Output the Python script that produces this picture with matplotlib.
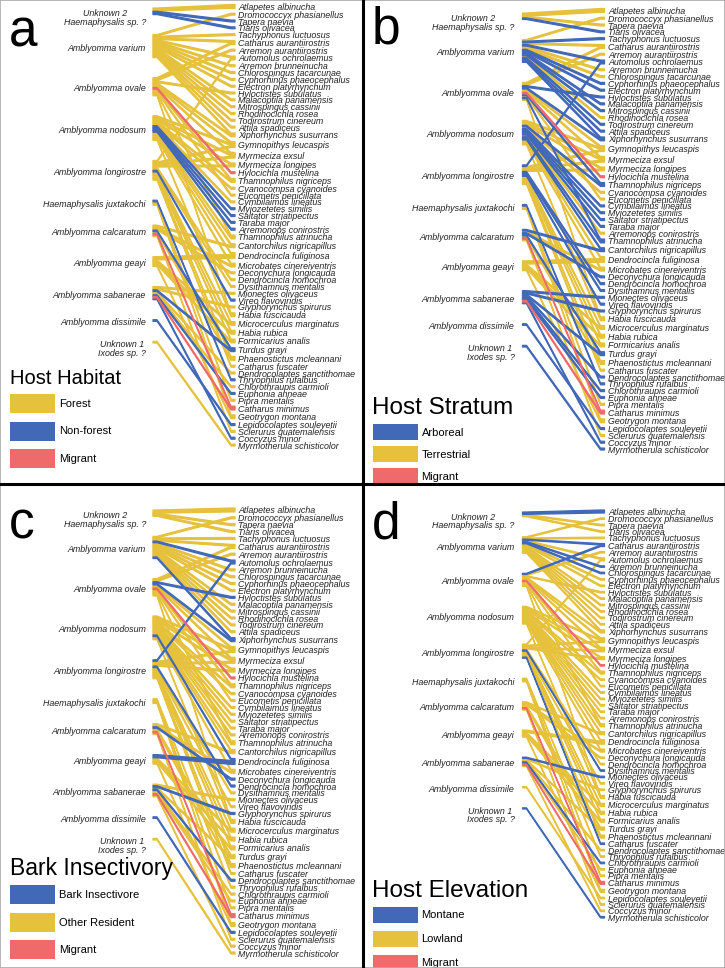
import numpy as np
import matplotlib.pyplot as plt
from matplotlib.patches import Polygon, Rectangle
from matplotlib.lines import Line2D

plt.rcParams['font.family'] = ['Liberation Sans', 'DejaVu Sans']

# ---------------- data ----------------
ticks = ["Unknown 2\nHaemaphysalis sp. ?", "Amblyomma varium", "Amblyomma ovale",
         "Amblyomma nodosum", "Amblyomma longirostre", "Haemaphysalis juxtakochi",
         "Amblyomma calcaratum", "Amblyomma geayi", "Amblyomma sabanerae",
         "Amblyomma dissimile", "Unknown 1\nIxodes sp. ?"]

birds = ["Atlapetes albinucha", "Dromococcyx phasianellus", "Tapera naevia",
         "Tiaris olivacea", "Tachyphonus luctuosus", "Catharus aurantiirostris",
         "Arremon aurantiirostris", "Automolus ochrolaemus", "Arremon brunneinucha",
         "Chlorospingus tacarcunae", "Cyphorhinus phaeocephalus", "Electron platyrhynchum",
         "Hyloctistes subulatus", "Malacoptila panamensis", "Mitrospingus cassinii",
         "Rhodinocichla rosea", "Todirostrum cinereum", "Attila spadiceus",
         "Xiphorhynchus susurrans", "Gymnopithys leucaspis", "Myrmeciza exsul",
         "Myrmeciza longipes", "Hylocichla mustelina", "Thamnophilus nigriceps",
         "Cyanocompsa cyanoides", "Eucometis penicillata", "Cymbilaimus lineatus",
         "Myiozetetes similis", "Saltator striatipectus", "Taraba major",
         "Arremonops conirostris", "Thamnophilus atrinucha", "Cantorchilus nigricapillus",
         "Dendrocincla fuliginosa", "Microbates cinereiventris", "Deconychura longicauda",
         "Dendrocincla homochroa", "Dysithamnus mentalis", "Mionectes olivaceus",
         "Vireo flavoviridis", "Glyphorynchus spirurus", "Habia fuscicauda",
         "Microcerculus marginatus", "Habia rubica", "Formicarius analis",
         "Turdus grayi", "Phaenostictus mcleannani", "Catharus fuscater",
         "Dendrocolaptes sanctithomae", "Thryophilus rufalbus", "Chlorothraupis carmioli",
         "Euphonia anneae", "Pipra mentalis", "Catharus minimus", "Geotrygon montana",
         "Lepidocolaptes souleyetii", "Sclerurus guatemalensis", "Coccyzus minor",
         "Myrmotherula schisticolor"]

# tick -> list of (bird index, number of records)
links = {
    0: [(0, 2), (2, 1), (3, 1)],
    1: [(1, 1), (4, 1), (5, 1), (7, 1), (8, 1), (9, 1), (10, 1), (11, 1), (13, 1),
        (14, 1), (15, 1), (16, 1), (17, 1), (18, 1)],
    2: [(5, 1), (6, 1), (12, 1), (18, 1), (19, 1), (20, 1), (22, 1), (23, 1), (25, 1),
        (31, 1), (41, 1)],
    3: [(19, 1), (20, 1), (21, 1), (23, 1), (24, 1), (26, 1), (27, 1), (28, 1), (29, 1),
        (30, 1), (31, 1), (32, 1), (33, 1), (34, 1), (41, 1)],
    4: [(7, 1), (19, 1), (20, 1), (21, 1), (36, 1), (37, 1), (39, 1), (42, 1), (43, 1),
        (44, 1), (46, 1), (47, 1)],
    5: [(52, 1), (54, 1), (49, 1)],
    6: [(32, 1), (34, 1), (35, 1), (45, 1), (46, 1), (53, 1), (56, 1)],
    7: [(33, 2), (42, 1), (43, 1), (44, 1), (54, 1)],
    8: [(40, 1), (38, 1), (45, 1), (48, 1), (50, 1), (51, 1), (53, 1), (57, 1)],
    9: [(55, 1)],
    10: [(58, 1)],
}

# bird attributes for each panel (F/N/M, A/T/M, B/O/M, H/L/M)
habitat = list("FFNNFFFFFFFFFFFFFFFFFFMFFFFNNNNFFFFFFFFNFFFFFNFFFNFNFMFNFNF")
stratum = list("TTTAATTATTAAAAATAAATTTMATTAAAATAATTAAAAAATTTTATTAAAATMTATAA")
bark = list("OOOOOOOBOOOOBOOOOOBOOOMOOOOOOOOOOBOBBOOOBOOOOOOOBOOOOMOBOOO")
elevation = list("HLLLLHLLHHLLLLLLLLLLLLMLLLLLLLLLLLLLLHHLLLLLLLLHLLHLLMLLLLH")

# ---------------- style ----------------
YEL, BLU, RED = '#E6C13C', '#4169B8', '#EF6A6A'
W, H = 725, 968

panels = [
    dict(letter='a', ox=0, oy=0, title='Host Habitat', attr=habitat,
         legend=[('F', 'Forest', YEL), ('N', 'Non-forest', BLU), ('M', 'Migrant', RED)],
         tx=153, bx=235, tlab=146, blab=238, t0=8, t1=343, b0=4.5, b1=446,
         ly=33, leg=378, tfs=14.5, step=27.5, ph=19),
    dict(letter='b', ox=362.5, oy=0, title='Host Stratum', attr=stratum,
         legend=[('A', 'Arboreal', BLU), ('T', 'Terrestrial', YEL), ('M', 'Migrant', RED)],
         tx=160, bx=242, tlab=152, blab=246, t0=13, t1=347, b0=8.5, b1=450,
         ly=30, leg=408, tfs=17.5, step=22, ph=16),
    dict(letter='c', ox=0, oy=484, title='Bark Insectivory', attr=bark,
         legend=[('B', 'Bark Insectivore', BLU), ('O', 'Other Resident', YEL), ('M', 'Migrant', RED)],
         tx=153, bx=235, tlab=146, blab=238, t0=26, t1=356, b0=24, b1=470,
         ly=41, leg=385, tfs=16.5, step=27.5, ph=19),
    dict(letter='d', ox=362.5, oy=484, title='Host Elevation', attr=elevation,
         legend=[('H', 'Montane', BLU), ('L', 'Lowland', YEL), ('M', 'Migrant', RED)],
         tx=160, bx=242, tlab=152, blab=246, t0=28, t1=325, b0=26, b1=434,
         ly=41, leg=407, tfs=17.5, step=24, ph=16),
]


def stack(totals, top, bottom, gap):
    unit = (bottom - top - gap * (len(totals) - 1)) / sum(totals)
    starts, y = [], top
    for t in totals:
        starts.append(y)
        y += t * unit + gap
    return np.array(starts), unit


tick_tot = [sum(n for _, n in links[i]) for i in range(len(ticks))]
bird_tot = [0] * len(birds)
for i in links:
    for j, n in links[i]:
        bird_tot[j] += n

fig = plt.figure(figsize=(W / 100, H / 100), dpi=100)

for p in panels:
    ax = fig.add_axes([p['ox'] / W, 1 - (p['oy'] + 484) / H, 362.5 / W, 484 / H])
    ax.set_xlim(0, 362.5)
    ax.set_ylim(484, 0)
    ax.axis('off')
    col = {k: c for k, _, c in p['legend']}

    ts, tu = stack(tick_tot, p['t0'], p['t1'], 20)
    bs, bu = stack(bird_tot, p['b0'], p['b1'], 4.9)

    # running offsets inside each box
    t_off = [0.0] * len(ticks)
    b_off = [0.0] * len(birds)
    segs = []
    for i in range(len(ticks)):
        for j, n in sorted(links[i]):
            segs.append([i, j, n, ts[i] + t_off[i] * tu, 0.0])
            t_off[i] += n
    for s in sorted(segs, key=lambda s: (s[1], s[0])):
        s[4] = bs[s[1]] + b_off[s[1]] * bu
        b_off[s[1]] += s[2]

    order = {YEL: 0, BLU: 1, RED: 2}
    segs.sort(key=lambda s: order[col[p['attr'][s[1]]]])
    x0, x1, st = p['tx'], p['bx'], 4
    for i, j, n, ya, yb in segs:
        c = col[p['attr'][j]]
        ha, hb = n * tu, n * bu
        poly = [(x0, ya), (x0 + st, ya), (x1 - st, yb), (x1, yb),
                (x1, yb + hb), (x1 - st, yb + hb), (x0 + st, ya + ha), (x0, ya + ha)]
        ax.add_patch(Polygon(poly, closed=True, facecolor=c, edgecolor=c, lw=0.9,
                             joinstyle='round'))

    for i, name in enumerate(ticks):
        yc = ts[i] + tick_tot[i] * tu / 2
        if '\n' in name:
            yc += 5
        ax.text(p['tlab'], yc + 2, name, ha='right', va='center', ma='center',
                fontsize=6.4, style='italic', color='#222222', linespacing=0.95)
    for j, name in enumerate(birds):
        yc = bs[j] + bird_tot[j] * bu / 2
        ax.text(p['blab'], yc + 1, name, ha='left', va='center',
                fontsize=6.4, style='italic', color='#222222')

    ax.text(9, p['ly'], p['letter'], fontsize=37, ha='left', va='center')
    ax.text(10, p['leg'], p['title'], fontsize=p['tfs'], ha='left', va='center')
    for k, (_, lab, c) in enumerate(p['legend']):
        y = p['leg'] + 16 + k * p['step']
        ax.add_patch(Rectangle((10, y), 45, p['ph'], facecolor=c, edgecolor='none'))
        ax.text(59, y + p['ph'] / 2 + 0.5, lab, fontsize=8, ha='left', va='center')

# frame and separators
fig.add_artist(Line2D([362.5 / W] * 2, [0, 1], color='black', lw=2.2))
fig.add_artist(Line2D([0, 1], [1 - 484 / H] * 2, color='black', lw=2.2))
fig.add_artist(Rectangle((0, 0), 1, 1, transform=fig.transFigure, fill=False,
                         edgecolor='#aaaaaa', lw=1.2))

fig.savefig('out.png', dpi=100)
